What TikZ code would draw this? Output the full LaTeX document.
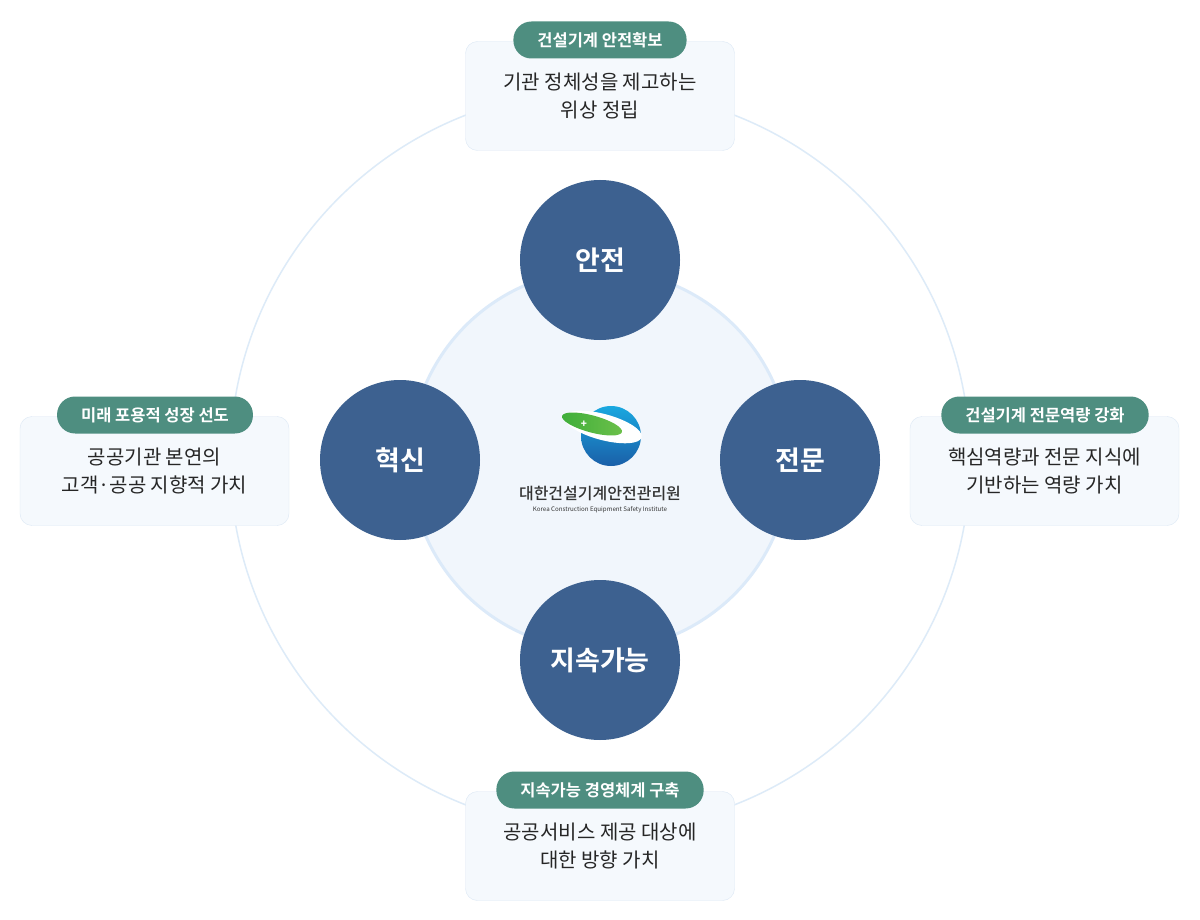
\documentclass[tikz,border=0pt]{standalone}
\usepackage{fontspec}
\setmainfont{Noto Sans CJK KR}
\newfontfamily\kb{Noto Sans CJK KR Bold}
\newfontfamily\km{Noto Sans CJK KR Medium}
\usetikzlibrary{shapes.geometric}
\definecolor{navy}{HTML}{3D6190}
\definecolor{teal}{HTML}{4E8E80}
\definecolor{boxfill}{HTML}{F5F9FD}
\definecolor{boxline}{HTML}{DCE8F5}
\definecolor{ring}{HTML}{DDEBF8}
\definecolor{innerline}{HTML}{DCEAF9}
\definecolor{innerfill}{HTML}{F1F6FC}
\definecolor{lbl}{HTML}{1AA8E0}
\definecolor{lbd}{HTML}{1A5FA8}
\definecolor{lgr}{HTML}{3FAE3A}
\definecolor{lgd}{HTML}{6CC04A}
\begin{document}
\begin{tikzpicture}[x=1pt,y=-1pt,
  core/.style={circle,fill=navy,minimum size=160pt,inner sep=0,text=white,font=\kb\fontsize{27}{30}\selectfont},
  card/.style={rectangle,rounded corners=12pt,fill=boxfill,draw=boxline,minimum width=269pt,minimum height=109pt,align=center,font=\fontsize{20}{28}\selectfont,text=black!85},
  pill/.style={rectangle,rounded corners=18pt,fill=teal,minimum height=37pt,inner xsep=24pt,text=white,font=\kb\fontsize{16.5}{18}\selectfont}]
\useasboundingbox (0,0) rectangle (1200,920);
\fill[white] (0,0) rectangle (1200,920);
\draw[ring,line width=1.5pt] (600,460) circle (370);
\draw[innerline,fill=innerfill,line width=3pt] (600,460) circle (190);
\node[card] (ct) at (600,96) {기관 정체성을 제고하는\\위상 정립};
\node[card] (cl) at (154.5,471) {공공기관 본연의\\고객·공공 지향적 가치};
\node[card] (cr) at (1044.5,471) {핵심역량과 전문 지식에\\기반하는 역량 가치};
\node[card] (cb) at (600,846) {공공서비스 제공 대상에\\대한 방향 가치};
\node[pill] (pt) at (600,40) {건설기계 안전확보};
\node[pill] (pl) at (155,415) {미래 포용적 성장 선도};
\node[pill] (pr) at (1045,415) {건설기계 전문역량 강화};
\node[pill] (pb) at (600,790) {지속가능 경영체계 구축};
\node[core] (n1) at (600,260) {안전};
\node[core] (n2) at (400,460) {혁신};
\node[core] (n3) at (800,460) {전문};
\node[core] (n4) at (600,660) {지속가능};
% logo
\shade[top color=lbl,bottom color=lbd] (611,436) circle (30);
\fill[white,rotate around={-15:(603,427)}] (603,427) ellipse (40 and 13);
\shade[left color=lgr,right color=lgd,rotate around={-15:(592,424)}] (592,424) ellipse (31 and 8.5);
\node[text=white,font=\bfseries\fontsize{10}{10}\selectfont] (plus) at (584,424) {+};
\node[font=\km\fontsize{16}{16}\selectfont,text=black!80] (lt) at (600,494) {대한건설기계안전관리원};
\node[font=\fontsize{6.2}{7}\selectfont,text=black!80] (le) at (600,510) {Korea Construction Equipment Safety Institute};
\end{tikzpicture}
\end{document}
